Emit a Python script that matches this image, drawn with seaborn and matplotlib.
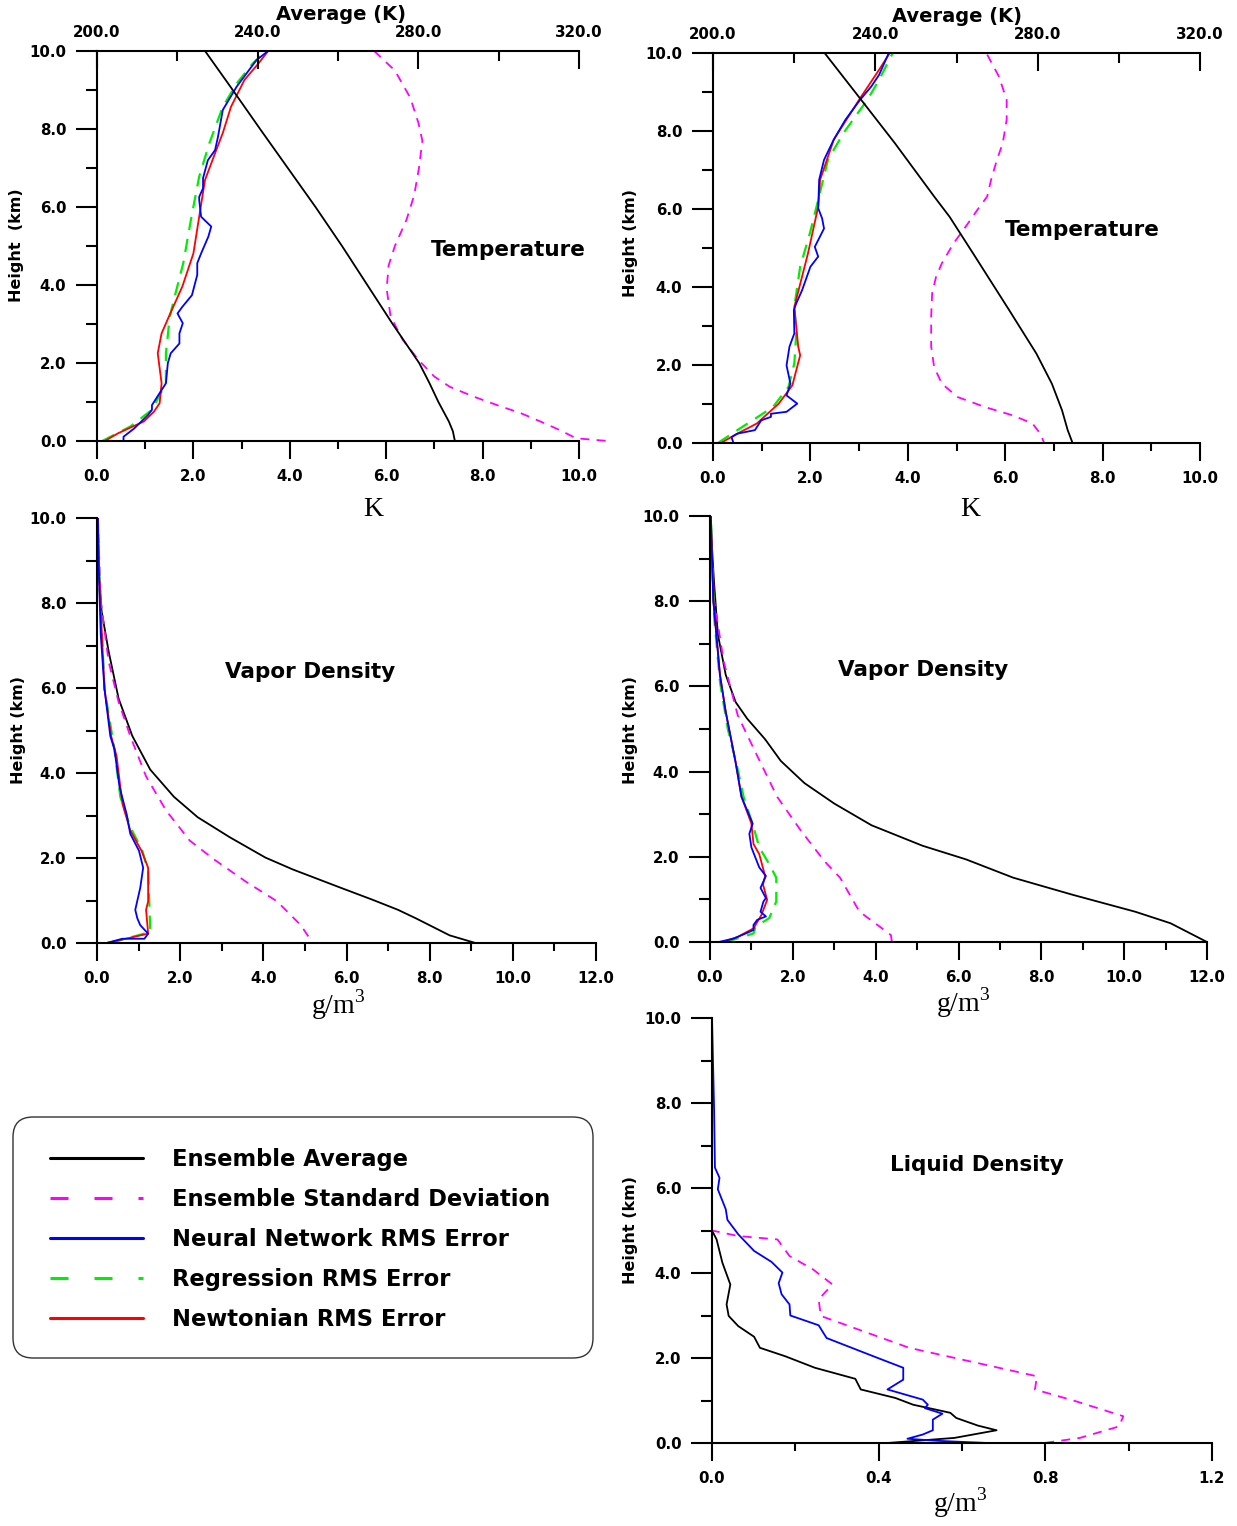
import numpy as np
import pandas as pd
import seaborn as sns
import matplotlib.pyplot as plt
from matplotlib.lines import Line2D
from matplotlib.patches import FancyBboxPatch
from matplotlib.ticker import MultipleLocator, FormatStrFormatter

sns.set_theme(style="ticks")
plt.rcParams['font.family'] = ['DejaVu Sans']
plt.rcParams['font.weight'] = 'bold'
plt.rcParams['mathtext.fontset'] = 'stix'
plt.rcParams['text.color'] = 'black'
plt.rcParams['xtick.color'] = 'black'
plt.rcParams['ytick.color'] = 'black'
plt.rcParams['axes.labelcolor'] = 'black'

# ---- Temperature, left panel ----
t1_avg_h = [0, 0.25, 0.5, 1.0, 1.5, 2.0, 2.5, 3.0, 4.0, 5.0, 6.0, 7.0, 8.0, 9.0, 10.0]
t1_avg = [289.1, 288.6, 287.6, 285.0, 282.7, 280.2, 276.9, 273.6, 267.3, 261.0, 254.4, 247.5, 240.6, 233.8, 226.9]
t1_sd_h = [10, 9.5, 8.8, 8.15, 7.7, 7.0, 6.3, 5.67, 5.0, 4.5, 3.9, 3.2, 2.6, 2.08, 1.65, 1.39, 1.14, 0.92, 0.71, 0.5, 0.28, 0.07, 0]
t1_sd = [5.75, 6.18, 6.5, 6.67, 6.75, 6.68, 6.58, 6.42, 6.18, 6.05, 6.01, 6.09, 6.34, 6.67, 7.0, 7.32, 7.81, 8.3, 8.8, 9.2, 9.6, 9.94, 10.6]
t1_nn_h = [0, 0.11, 0.32, 0.67, 0.8, 0.92, 1.48, 2.0, 2.25, 2.5, 2.76, 3.02, 3.27, 3.44, 3.74, 4.26, 4.56, 4.81,
           5.24, 5.5, 5.75, 6.18, 6.26, 6.48, 6.74, 7.2, 7.46, 7.8, 8.49, 9.09, 9.77, 10]
t1_nn = [0.55, 0.55, 0.77, 1.06, 1.14, 1.14, 1.43, 1.47, 1.53, 1.71, 1.71, 1.78, 1.67, 1.77, 1.97, 2.08, 2.08, 2.16,
         2.31, 2.37, 2.16, 2.12, 2.12, 2.2, 2.2, 2.3, 2.45, 2.51, 2.61, 2.9, 3.31, 3.55]
t1_nw_h = [0, 0.2, 0.5, 0.75, 0.97, 1.48, 2.25, 2.76, 3.27, 3.96, 4.81, 5.75, 6.69, 7.38, 7.9, 8.57, 9.26, 9.68, 10]
t1_nw = [0.16, 0.44, 0.97, 1.18, 1.3, 1.34, 1.26, 1.34, 1.52, 1.77, 2.0, 2.12, 2.24, 2.45, 2.61, 2.78, 3.06, 3.35, 3.55]
t1_rg_h = [0, 0.37, 0.8, 1.48, 2.25, 3.19, 3.79, 4.56, 5.75, 6.78, 7.63, 8.57, 9.17, 9.68, 10]
t1_rg = [0.11, 0.69, 1.14, 1.43, 1.43, 1.51, 1.63, 1.79, 1.96, 2.12, 2.33, 2.61, 2.9, 3.23, 3.51]

# ---- Temperature, right panel ----
t2_avg_h = [10, 8.8, 7.69, 6.32, 5.8, 4.86, 3.42, 2.29, 1.52, 0.84, 0.33, 0]
t2_avg = [227.5, 236.5, 244.8, 254.5, 258.3, 264.1, 272.9, 279.7, 283.5, 286.0, 287.4, 288.6]
t2_sd_h = [9.96, 9.4, 8.8, 8.29, 7.69, 7.26, 6.75, 6.32, 5.98, 5.55, 5.12, 4.61, 4.26, 3.84, 3.24, 2.47, 1.95, 1.52,
           1.18, 0.92, 0.71, 0.5, 0.24, 0]
t2_sd = [5.63, 5.87, 6.03, 6.03, 5.95, 5.83, 5.71, 5.63, 5.43, 5.19, 4.94, 4.7, 4.58, 4.5, 4.48, 4.48, 4.54, 4.7,
         5.02, 5.59, 6.15, 6.56, 6.72, 6.8]
t2_nn_h = [0, 0.15, 0.24, 0.33, 0.58, 0.67, 0.75, 0.8, 1.01, 1.22, 1.52, 1.99, 2.47, 2.81, 3.41, 3.58, 3.92, 4.52,
           4.78, 5.03, 5.5, 5.76, 6.02, 6.75, 7.26, 7.78, 8.29, 8.8, 9.14, 9.44, 10]
t2_nn = [0.42, 0.38, 0.5, 0.86, 0.99, 1.19, 1.19, 1.51, 1.73, 1.51, 1.59, 1.51, 1.57, 1.67, 1.66, 1.71, 1.83, 2.0,
         2.16, 2.09, 2.28, 2.24, 2.16, 2.18, 2.28, 2.48, 2.72, 3.02, 3.25, 3.41, 3.61]
t2_nw_h = [0, 0.24, 0.5, 1.01, 1.48, 2.25, 2.47, 2.98, 3.49, 4.86, 6.06, 6.75, 7.78, 8.8, 9.57, 10]
t2_nw = [0.16, 0.5, 0.9, 1.35, 1.63, 1.79, 1.75, 1.71, 1.67, 1.95, 2.16, 2.2, 2.48, 3.0, 3.41, 3.63]
t2_rg_h = [0, 0.33, 0.92, 1.44, 2.04, 2.81, 3.49, 4.52, 5.38, 6.23, 7.26, 7.95, 8.8, 9.31, 10]
t2_rg = [0.1, 0.5, 1.23, 1.55, 1.67, 1.71, 1.67, 1.79, 1.99, 2.16, 2.36, 2.68, 3.17, 3.41, 3.69]

# ---- Vapor density, left panel ----
v1_avg_h = [10, 8.85, 7.81, 6.86, 5.75, 4.87, 4.08, 3.44, 2.96, 2.49, 2.01, 1.73, 1.3, 1.02, 0.78, 0.58, 0.18, 0]
v1_avg = [0.02, 0.04, 0.11, 0.28, 0.52, 0.85, 1.28, 1.85, 2.42, 3.19, 4.05, 4.71, 5.86, 6.62, 7.24, 7.67, 8.48, 9.1]
v1_sd_h = [10, 8.05, 6.62, 5.67, 4.87, 3.92, 3.12, 2.41, 1.97, 1.45, 0.98, 0.42, 0]
v1_sd = [0.02, 0.09, 0.28, 0.52, 0.8, 1.18, 1.66, 2.23, 2.81, 3.57, 4.33, 4.9, 5.19]
v1_nn_h = [0, 0.1, 0.1, 0.22, 0.42, 0.58, 0.78, 1.3, 1.77, 2.17, 2.57, 3.04, 3.68, 4.55, 4.87, 5.98, 7.26, 8.85, 10]
v1_nn = [0.23, 0.61, 1.14, 1.23, 1.04, 0.97, 0.92, 1.04, 1.11, 1.01, 0.8, 0.71, 0.54, 0.42, 0.32, 0.18, 0.09, 0.04, 0.02]
v1_nw_h = [0, 0.22, 0.78, 0.98, 1.77, 2.17, 2.65, 3.28, 4.4, 4.87, 5.98, 8.85, 10]
v1_nw = [0.23, 1.23, 1.18, 1.23, 1.23, 1.07, 0.8, 0.61, 0.47, 0.34, 0.18, 0.04, 0.02]
v1_rg_h = [0, 0.26, 0.9, 1.69, 2.17, 2.73, 3.44, 4.55, 5.98, 8.45, 10]
v1_rg = [0.32, 1.28, 1.26, 1.23, 1.09, 0.8, 0.56, 0.42, 0.18, 0.06, 0.02]

# ---- Vapor density, right panel ----
v2_avg_h = [10, 8.41, 7.22, 6.27, 5.63, 5.24, 4.76, 4.25, 3.73, 3.25, 2.74, 2.26, 1.94, 1.51, 1.11, 0.71, 0.44, 0]
v2_avg = [0.0, 0.1, 0.19, 0.38, 0.62, 0.9, 1.33, 1.71, 2.28, 3.0, 3.9, 5.13, 6.18, 7.32, 8.75, 10.27, 11.12, 12.0]
v2_sd_h = [10, 8.02, 6.59, 5.32, 4.37, 3.41, 2.62, 1.9, 1.51, 0.71, 0.44, 0.16, 0]
v2_sd = [0.0, 0.1, 0.33, 0.67, 1.14, 1.62, 2.19, 2.76, 3.14, 3.61, 3.99, 4.37, 4.39]
v2_nn_h = [0, 0.08, 0.2, 0.28, 0.4, 0.52, 0.6, 0.71, 0.95, 1.03, 1.27, 1.55, 1.75, 2.22, 2.54, 2.78, 3.41, 4.21,
           5.4, 6.27, 8.02, 10]
v2_nn = [0.21, 0.57, 0.86, 1.05, 1.05, 1.14, 1.35, 1.22, 1.29, 1.35, 1.22, 1.35, 1.19, 1.0, 0.95, 1.03, 0.76, 0.62,
         0.38, 0.24, 0.08, 0.02]
v2_nw_h = [0, 0.12, 0.32, 0.63, 0.99, 1.35, 1.55, 2.06, 2.3, 2.78, 3.41, 4.21, 5.4, 6.27, 8.02, 10]
v2_nw = [0.3, 0.67, 1.05, 1.24, 1.38, 1.28, 1.33, 1.19, 1.05, 1.0, 0.76, 0.62, 0.38, 0.24, 0.08, 0.02]
v2_rg_h = [0, 0.2, 0.36, 0.56, 0.95, 1.51, 1.83, 2.22, 2.7, 3.41, 4.05, 5.0, 6.11, 7.62, 10]
v2_rg = [0.38, 1.05, 1.1, 1.43, 1.6, 1.6, 1.43, 1.19, 1.05, 0.81, 0.67, 0.43, 0.24, 0.1, 0.02]

# ---- Liquid density ----
l_avg_h = [10, 5.0, 4.79, 4.24, 3.73, 3.26, 2.99, 2.75, 2.5, 2.24, 2.04, 1.77, 1.51, 1.26, 1.06, 0.9, 0.79, 0.71,
           0.59, 0.41, 0.3, 0.12, 0]
l_avg = [0.0, 0.0, 0.011, 0.025, 0.044, 0.035, 0.04, 0.063, 0.101, 0.115, 0.176, 0.247, 0.344, 0.357, 0.44, 0.483,
         0.535, 0.572, 0.586, 0.638, 0.683, 0.582, 0.421]
l_sd_h = [10, 5.0, 4.87, 4.79, 4.4, 4.08, 3.73, 3.38, 2.99, 2.24, 1.57, 1.26, 0.98, 0.63, 0.39, 0.12, 0]
l_sd = [0.0, 0.0, 0.063, 0.157, 0.186, 0.243, 0.289, 0.256, 0.261, 0.473, 0.78, 0.775, 0.874, 0.987, 0.977, 0.883, 0.798]
l_nn_h = [10, 7.86, 6.48, 6.24, 5.97, 5.5, 5.25, 4.91, 4.52, 4.26, 4.01, 3.76, 3.5, 3.26, 3.0, 2.77, 2.47, 2.0, 1.77,
          1.49, 1.26, 1.02, 0.9, 0.82, 0.69, 0.55, 0.3, 0.2, 0.1, 0.05, 0]
l_nn = [0.0, 0.005, 0.007, 0.018, 0.014, 0.033, 0.037, 0.063, 0.101, 0.143, 0.169, 0.16, 0.167, 0.186, 0.188, 0.256,
        0.275, 0.398, 0.459, 0.459, 0.421, 0.506, 0.518, 0.511, 0.553, 0.53, 0.53, 0.506, 0.469, 0.544, 0.662]

legend_labels = ["Ensemble Average", "Ensemble Standard Deviation", "Neural Network RMS Error",
                 "Regression RMS Error", "Newtonian RMS Error"]

W, H = 1237, 1526
fig = plt.figure(figsize=(W / 100, H / 100), dpi=100)
fig.patch.set_facecolor('white')


def px_box(x0, y0, x1, y1):
    return [x0 / W, 1 - y1 / H, (x1 - x0) / W, (y1 - y0) / H]


def fx(x):
    return x / W


def fy(y):
    return 1 - y / H


MAG = dict(color='#ff00ff', lw=1.3, linestyle=(0, (5, 4)))
GRN = dict(color='#00ee00', lw=1.6, linestyle=(0, (6, 4)))
BLU = dict(color='#0000ff', lw=1.3)
RED = dict(color='#ff0000', lw=1.3)
BLK = dict(color='black', lw=1.3)


def prof(ax, x, h, **kw):
    sns.lineplot(x=x, y=h, ax=ax, sort=False, estimator=None, **kw)


def style_axis(ax, xmax, xmajor, xminor):
    ax.set_xlim(0, xmax)
    ax.set_ylim(0, 10)
    ax.set_xlabel('')
    ax.set_ylabel('')
    ax.xaxis.set_major_locator(MultipleLocator(xmajor))
    ax.xaxis.set_minor_locator(MultipleLocator(xminor))
    ax.yaxis.set_major_locator(MultipleLocator(2))
    ax.yaxis.set_minor_locator(MultipleLocator(1))
    ax.xaxis.set_major_formatter(FormatStrFormatter('%.1f'))
    ax.yaxis.set_major_formatter(FormatStrFormatter('%.1f'))
    ax.spines['top'].set_visible(False)
    ax.spines['right'].set_visible(False)
    for s in ['left', 'bottom']:
        ax.spines[s].set_linewidth(1.5)
        ax.spines[s].set_color('black')
    ax.set_facecolor('none')


def set_ticks(ax):
    ax.tick_params(axis='x', which='major', direction='out', length=13, width=1.5, pad=7.5, labelsize=10.8,
                   bottom=True, labelbottom=True, top=False, labeltop=False)
    ax.tick_params(axis='x', which='minor', direction='out', length=6, width=1.5, bottom=True, top=False)
    ax.tick_params(axis='y', which='major', direction='out', length=15, width=1.5, pad=7, labelsize=10.8,
                   left=True, right=False)
    ax.tick_params(axis='y', which='minor', direction='out', length=8, width=1.5, left=True, right=False)


def style_top(tw):
    tw.set_xlim(200, 320)
    tw.set_ylim(0, 10)
    tw.set_xlabel('')
    tw.set_ylabel('')
    tw.xaxis.set_major_locator(MultipleLocator(40))
    tw.xaxis.set_minor_locator(MultipleLocator(20))
    tw.xaxis.set_major_formatter(FormatStrFormatter('%.1f'))
    tw.xaxis.set_ticks_position('top')
    tw.yaxis.set_visible(False)
    tw.tick_params(axis='x', which='major', direction='in', length=13, width=1.5, pad=8, labelsize=10.8,
                   top=True, labeltop=True, bottom=False, labelbottom=False)
    tw.tick_params(axis='x', which='minor', direction='in', length=7, width=1.5, top=True, bottom=False)
    for s in ['left', 'right', 'bottom']:
        tw.spines[s].set_visible(False)
    tw.spines['top'].set_linewidth(1.5)
    tw.spines['top'].set_color('black')
    tw.patch.set_visible(False)


main_axes = []

# Temperature panels (average on the top Kelvin scale)
panels_t = [
    (px_box(97, 51, 579, 441), t1_sd, t1_sd_h, t1_nn, t1_nn_h, t1_rg, t1_rg_h, t1_nw, t1_nw_h, t1_avg, t1_avg_h),
    (px_box(713, 53, 1200, 443), t2_sd, t2_sd_h, t2_nn, t2_nn_h, t2_rg, t2_rg_h, t2_nw, t2_nw_h, t2_avg, t2_avg_h),
]
for (rect, sd, sdh, nn, nnh, rg, rgh, nw, nwh, avg, avgh) in panels_t:
    ax = fig.add_axes(rect)
    prof(ax, sd, sdh, clip_on=False, **MAG)
    prof(ax, rg, rgh, **GRN)
    prof(ax, nw, nwh, **RED)
    prof(ax, nn, nnh, **BLU)
    style_axis(ax, 10, 2, 1)
    main_axes.append(ax)
    tw = fig.add_axes(rect, facecolor='none')
    prof(tw, avg, avgh, **BLK)
    style_top(tw)

# Vapor panels
panels_v = [
    (px_box(97, 518, 596, 943), v1_sd, v1_sd_h, v1_nn, v1_nn_h, v1_rg, v1_rg_h, v1_nw, v1_nw_h, v1_avg, v1_avg_h),
    (px_box(710, 516, 1207, 942), v2_sd, v2_sd_h, v2_nn, v2_nn_h, v2_rg, v2_rg_h, v2_nw, v2_nw_h, v2_avg, v2_avg_h),
]
for (rect, sd, sdh, nn, nnh, rg, rgh, nw, nwh, avg, avgh) in panels_v:
    ax = fig.add_axes(rect)
    prof(ax, avg, avgh, **BLK)
    prof(ax, sd, sdh, **MAG)
    prof(ax, rg, rgh, **GRN)
    prof(ax, nw, nwh, **RED)
    prof(ax, nn, nnh, **BLU)
    style_axis(ax, 12, 2, 1)
    main_axes.append(ax)

# Liquid panel
ax = fig.add_axes(px_box(712, 1018, 1212, 1443))
prof(ax, l_avg, l_avg_h, **BLK)
prof(ax, l_sd, l_sd_h, **MAG)
prof(ax, l_nn, l_nn_h, **BLU)
style_axis(ax, 1.2, 0.4, 0.2)
main_axes.append(ax)

for ax in main_axes:
    set_ticks(ax)

# Panel texts
bold = dict(fontweight='bold', ha='center', va='center', color='black')
fig.text(fx(341), fy(15), 'Average (K)', fontsize=14, **bold)
fig.text(fx(957), fy(17), 'Average (K)', fontsize=14, **bold)
fig.text(fx(508), fy(250), 'Temperature', fontsize=15.5, **bold)
fig.text(fx(1082), fy(230), 'Temperature', fontsize=15.5, **bold)
fig.text(fx(310), fy(672), 'Vapor Density', fontsize=15.5, **bold)
fig.text(fx(923), fy(670), 'Vapor Density', fontsize=15.5, **bold)
fig.text(fx(977), fy(1165), 'Liquid Density', fontsize=15.5, **bold)

ylab = dict(fontsize=11.5, rotation=90, **bold)
fig.text(fx(17), fy(245), 'Height  (km)', **ylab)
fig.text(fx(631), fy(243), 'Height (km)', **ylab)
fig.text(fx(19), fy(730), 'Height (km)', **ylab)
fig.text(fx(631), fy(730), 'Height (km)', **ylab)
fig.text(fx(631), fy(1230), 'Height (km)', **ylab)

serif = dict(family='Liberation Serif', fontweight='normal', fontsize=20, ha='center', va='center', color='black')
fig.text(fx(373), fy(509), 'K', **serif)
fig.text(fx(970), fy(509), 'K', **serif)
fig.text(fx(338), fy(1005), r'g/m$^{\mathregular{3}}$', **serif)
fig.text(fx(963), fy(1003), r'g/m$^{\mathregular{3}}$', **serif)
fig.text(fx(960), fy(1503), r'g/m$^{\mathregular{3}}$', **serif)

# Legend box
frame = FancyBboxPatch((13 / 100, (H - 1358) / 100), 580 / 100, 241 / 100,
                       boxstyle='round,pad=0,rounding_size=0.2', transform=fig.dpi_scale_trans,
                       facecolor='white', edgecolor='#333333', lw=1.0)
fig.add_artist(frame)
handles = [
    Line2D([], [], color='black', lw=2.2),
    Line2D([], [], color='#ff00ff', lw=2.2, linestyle=(0, (5.9, 8.5))),
    Line2D([], [], color='#0000ff', lw=2.2),
    Line2D([], [], color='#00ee00', lw=2.2, linestyle=(0, (5.9, 8.5))),
    Line2D([], [], color='#ff0000', lw=2.2),
]
fig.legend(handles, legend_labels, loc='upper left', bbox_to_anchor=(fx(50), fy(1148)),
           frameon=False, prop={'weight': 'bold', 'size': 16.3}, labelcolor='black', handlelength=4.1,
           handletextpad=1.3, labelspacing=0.75, borderpad=0, borderaxespad=0)

fig.savefig('out.png', dpi=100, facecolor='white')
